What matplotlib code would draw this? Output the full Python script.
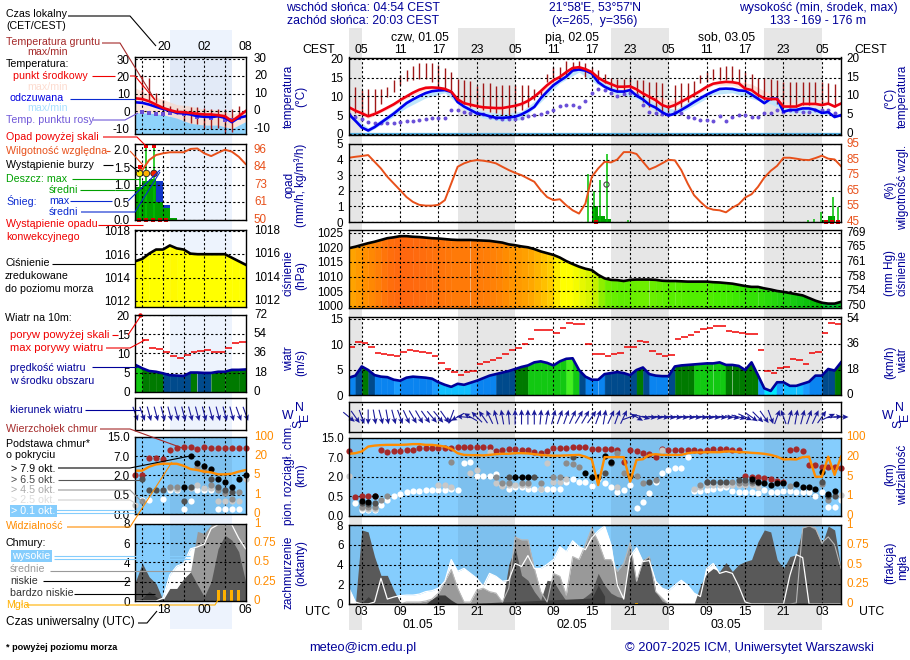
import numpy as np
import matplotlib
matplotlib.use("Agg")
import matplotlib.pyplot as plt
from matplotlib.colors import LinearSegmentedColormap

plt.rcParams['font.family'] = ['Liberation Sans', 'DejaVu Sans']
plt.rcParams['font.size'] = 8.8

#--------main panel data (hours counted from 01.05 00 UTC)--------
hours = np.arange(1, 79)
night_start = [1, 18, 42, 66]
night_end = [3, 27, 51, 75]

temp_mid = [7.1,6.2,5.5,4.7,5.3,6.1,7.0,7.9,9.0,10.0,11.0,11.8,12.3,12.4,12.3,12.0,11.3,9.2,8.2,7.8,
  7.4,7.1,7.0,6.9,6.9,7.2,7.5,8.0,8.8,9.9,11.4,13.0,14.3,15.2,16.5,17.6,17.8,17.3,16.5,15.0,
  14.0,13.3,12.6,12.6,12.7,11.9,10.8,9.9,9.0,7.7,7.1,7.7,8.6,9.5,10.5,11.5,12.6,13.4,13.7,13.9,
  13.8,13.5,12.1,11.7,10.4,9.5,9.3,9.3,7.3,7.3,7.3,8.0,8.0,8.0,7.7,8.1,7.3,8.1]
temp_feel = [5.2,3.5,1.7,0.9,1.8,3.0,4.2,5.4,6.8,8.2,9.2,10.1,10.9,11.4,11.6,11.7,11.2,8.5,7.3,6.4,
  5.5,5.2,4.7,4.3,4.3,4.4,4.6,5.2,6.1,7.2,9.5,11.3,13.0,14.2,15.3,16.9,17.2,16.9,16.1,13.8,
  12.6,11.8,11.3,11.3,11.7,10.2,9.2,7.8,7.0,5.8,4.9,5.4,6.4,7.4,8.5,9.5,10.5,11.3,12.0,12.1,
  12.0,11.6,11.5,10.5,9.4,8.2,9.4,9.4,5.9,6.4,6.4,6.8,6.8,6.4,5.6,5.8,4.5,5.0]
dew_point = [5.2,4.6,3.9,3.3,2.8,2.8,2.8,3.0,3.3,3.5,3.5,3.7,3.9,4.2,4.2,4.3,6.5,6.4,5.9,5.5,
  5.5,5.2,4.6,4.2,3.9,3.9,3.9,4.2,4.8,5.0,5.3,5.9,6.4,7.4,7.7,7.7,7.1,8.8,10.8,11.9,
  11.7,11.0,10.1,10.6,11.0,10.3,7.7,5.9,5.7,5.3,5.3,5.8,5.7,4.4,4.2,3.7,3.7,3.5,4.9,3.4,
  4.6,5.0,5.0,4.6,4.4,5.5,5.7,6.4,5.9,6.4,6.2,5.9,5.9,6.5,6.5,6.4,5.5,5.0]
soil_hours = np.arange(2, 78)
soil_max = [12.4,11.7,11.9,11.9,12.1,12.4,14.3,15.7,17.0,18.0,19.0,19.0,19.0,18.3,17.7,16.5,14.6,14.3,14.1,12.8,
  13.5,13.5,12.8,13.0,13.0,13.0,13.0,13.0,11.9,11.5,16.1,17.9,17.9,19.5,19.2,19.5,18.8,17.9,17.0,15.9,
  14.8,14.6,14.6,14.8,14.5,14.3,13.9,13.9,13.5,8.0,13.0,13.5,13.5,14.2,15.7,16.5,17.4,17.9,18.0,18.2,
  17.4,16.5,15.9,14.8,14.8,14.6,14.3,13.9,13.9,13.9,13.9,13.9,13.9,13.9,13.5,13.3]
soil_min = [5.5,5.0,5.0,5.9,8.1,9.9,11.2,13.0,14.0,14.3,14.6,14.6,13.8,12.4,12.1,11.7,9.0,8.1,7.3,6.8,
  6.4,5.9,5.5,5.0,5.0,5.5,6.4,7.3,9.0,10.4,13.9,14.8,14.8,15.7,17.0,17.0,15.2,15.7,13.5,13.5,
  12.1,11.2,10.8,10.8,10.4,8.6,7.3,6.4,5.9,6.0,6.4,7.3,8.6,9.9,13.5,13.9,14.3,14.3,14.3,13.9,
  13.5,12.1,11.7,9.9,9.0,9.0,8.1,7.3,7.3,7.3,7.7,7.7,8.1,7.7,8.1,7.3]
band_hours = [1,4,7,10,13,16,19,22,25,28,31,34,37,40,43,46,49,52,55,58,61,64,67,70,73,76]
pink_top = [7.6,5.5,7.3,10.6,12.9,12.5,8.7,7.6,7.4,8.5,11.8,15.6,18.2,15.6,13.0,12.6,10.0,8.8,11.0,14.0,14.3,13.3,10.6,8.3,8.8,8.8]
pink_bot = [6.5,4.1,6.5,9.4,11.8,11.6,7.6,6.6,6.4,7.4,10.8,14.5,17.2,14.2,12.0,11.0,8.6,7.0,10.0,13.0,13.0,11.0,8.8,6.9,7.6,7.7]
ice_top = [5.5,1.6,5.0,9.0,11.4,11.8,7.8,6.0,5.4,6.0,10.0,15.0,17.4,14.5,12.0,11.2,8.0,6.5,9.5,12.0,12.6,11.4,9.4,6.8,7.2,6.4]
ice_bot = [4.6,0.4,3.5,7.0,9.6,11.0,6.6,4.2,3.4,3.8,8.5,13.6,16.5,13.0,10.6,9.5,6.0,4.8,7.6,10.5,11.0,9.4,8.0,5.6,5.8,5.0]

humidity = [86.2,86.8,87.3,87.9,83.6,79.3,74.0,69.7,65.4,61.0,57.9,56.0,55.5,55.5,56.0,59.0,69.7,80.4,82.6,84.0,
  84.7,84.3,83.6,82.6,80.4,78.3,76.5,75.0,72.9,70.8,65.4,61.0,59.0,59.6,55.7,52.5,50.4,56.8,74.0,79.3,
  83.6,83.2,85.1,89.8,89.8,88.6,83.6,78.7,80.4,82.6,84.9,84.5,78.3,69.7,62.2,57.9,54.2,52.9,52.5,51.2,
  54.2,56.4,60.7,62.8,67.5,73.5,77.8,81.0,86.2,86.2,85.6,84.9,84.7,86.0,87.5,85.6,85.1,80.8]
rain_hours = [39, 40, 41, 44.5, 71, 73, 75, 76]
rain_mean = [1.0, 0.36, 0.2, 0.03, 0.02, 0.03, 0.1, 0.39]
rain_max_hours = [38.4, 39.4, 40.3, 41.3, 44.7, 72.8, 73.7, 74.8, 76.7, 77.5]
rain_max = [3.05, 2.0, 2.7, 4.36, 0.15, 0.15, 0.2, 0.64, 1.6, 0.96]
thunder_hours = [41.3]
thunder_level = [2.4]
conv_hours = [39.6, 75.6, 76.6, 77.6]

pressure = [1019.7,1020.2,1020.8,1021.4,1021.9,1022.5,1023.1,1023.4,1023.8,1023.8,1023.6,1023.5,1023.3,1023.1,1023.0,1022.8,1022.6,1022.5,1022.5,1022.5,
  1022.4,1022.3,1022.2,1021.9,1021.6,1021.0,1020.7,1020.3,1020.0,1019.4,1018.6,1018.0,1017.4,1016.5,1015.3,1014.3,1013.4,1012.7,1012.2,1010.6,
  1009.4,1008.9,1008.8,1008.5,1008.9,1009.0,1009.0,1009.0,1008.9,1008.6,1008.5,1008.5,1008.4,1008.3,1008.3,1008.3,1008.3,1008.1,1008.0,1007.8,
  1007.6,1007.2,1006.8,1006.5,1006.5,1006.0,1005.6,1005.1,1004.8,1004.4,1004.0,1003.6,1002.7,1001.8,1001.1,1000.8,1000.8,1001.4]

wind = [3.4,3.8,5.6,4.9,3.9,3.6,3.5,3.0,2.8,3.4,3.6,3.5,3.4,3.2,2.5,2.0,1.6,2.2,2.0,2.4,
  2.8,3.3,3.8,4.1,4.4,4.7,5.1,5.5,5.8,6.4,6.6,6.3,5.8,6.6,7.1,7.2,4.9,3.6,3.0,3.0,
  4.1,4.3,4.5,4.3,3.9,4.9,5.4,4.1,3.8,3.7,3.7,5.6,5.8,5.9,6.0,6.1,6.2,6.2,6.4,5.9,
  5.9,5.7,4.9,6.4,3.9,1.3,0.8,2.5,2.5,1.8,1.8,2.2,2.6,3.8,3.8,5.1,4.8,6.4]
gust_hours = np.arange(1, 78)
gust = [9.4,10.4,10.2,9.4,8.2,8.0,7.9,7.6,8.4,8.8,8.7,8.4,8.2,7.6,6.3,5.1,4.5,3.9,4.5,4.7,
  6.0,6.4,6.9,7.2,8.0,8.8,9.2,10.0,11.0,12.8,12.8,12.8,12.2,13.2,14.1,14.0,14.0,10.0,8.0,8.0,
  7.7,8.1,8.3,9.5,9.5,10.6,10.3,8.6,8.1,7.6,7.8,11.0,11.3,11.8,12.4,13.0,13.2,13.6,13.6,12.6,
  12.4,12.2,12.0,12.0,8.8,4.7,4.3,5.2,5.5,7.0,6.8,6.0,8.3,8.5,12.2,14.1,13.9]
wind_dir = [310,325,340,0,350,345,350,345,340,335,330,330,325,320,320,325,20,60,95,120,
  135,145,155,165,170,175,180,180,180,180,185,190,195,200,200,205,210,210,215,200,
  190,205,200,205,250,300,285,275,275,275,275,275,275,275,275,275,275,275,275,275,
  280,285,295,305,315,325,340,200,160,195,190,195,200,205,215,245,265,270]

top_km = [9.3,0.48,0.52,0.52,0.5,10.0,9.0,9.5,9.5,10.0,10.0,10.6,10.6,10.6,10.6,10.6,10.6,11.0,11.0,11.0,
  11.0,11.0,11.0,9.7,10.0,10.4,10.4,10.0,9.8,9.0,8.7,9.5,10.6,10.6,10.6,11.0,11.0,11.0,10.4,10.4,
  10.4,10.4,10.0,5.7,10.0,9.5,8.8,8.3,7.2,10.4,10.0,10.0,10.0,10.0,10.0,9.7,10.0,10.4,10.4,10.4,
  10.0,10.0,2.1,1.95,1.95,1.9,1.8,1.65,1.6,10.0,10.4,9.5,4.9,4.9,4.6,4.6,4.5,4.2]
black_h = [3,4,5,27,28,29,38,39,40,41,42,45,64,65,66,67,68,69,71,72,73,74,75,76,77]
black_km = [0.38,0.35,0.5,2.0,2.05,2.05,3.0,2.0,2.0,7.4,5.8,2.1,1.8,1.6,1.5,1.37,1.5,1.5,1.48,1.25,1.2,1.07,3.1,0.7,0.9]
dark_h = [3,4,5,26,30,36,41,42,48,57,58,59,60,62,63,64,65,75,76,77]
dark_km = [0.33,0.3,0.33,2.0,2.0,7.0,2.9,5.4,1.6,1.6,1.6,1.6,1.6,1.76,1.76,1.65,1.6,1.6,0.5,0.52]
grey_h = [3,4,5,6,7,17,24,25,26,28,29,31,33,34,35,36,37,43,44,46,47,49,56,57,61,62,63,64,65,70,75,76]
grey_km = [0.24,0.22,0.24,0.4,0.52,5.8,2.0,1.5,1.5,1.5,1.5,1.5,2.0,2.0,5.4,5.2,4.5,8.7,3.0,2.1,1.5,1.76,1.4,1.6,1.6,1.5,1.55,1.55,1.5,1.3,1.45,0.4]
light_h = [1,3,4,5,15,16,17,20,21,23,24,25,26,27,28,29,31,32,33,34,35,43,50,55,56,57,58,59,60,61,62,63,64,65,78]
light_km = [2.1,0.2,0.18,0.18,1.4,1.4,1.25,3.0,3.7,9.0,1.5,1.3,1.35,1.35,1.35,1.35,1.1,5.6,1.6,1.6,1.8,1.25,10.0,1.1,1.25,1.37,1.37,1.37,1.37,1.37,1.37,1.37,1.37,1.25,0.6]
white_h = np.arange(2, 79)
white_km = [0.32,0.16,0.16,0.16,0.28,0.4,0.52,0.7,0.82,0.92,0.92,1.0,1.0,1.0,1.0,1.1,1.0,5.4,5.7,2.1,
  2.1,2.3,2.6,1.4,1.1,1.2,1.2,1.1,1.1,1.07,1.1,1.1,1.1,1.6,1.8,1.6,1.6,1.3,1.8,1.5,
  1.25,0.86,1.0,1.37,0.2,0.35,0.74,1.6,3.0,3.6,4.2,4.2,7.0,0.9,0.9,1.0,1.1,1.17,1.25,0.92,
  0.86,0.86,0.8,0.74,1.0,0.86,0.86,0.9,0.9,0.86,0.86,0.86,0.5,0.86,0.24,0.24,0.4]
visibility = [33.6,36,43,63,67,69,70,70,70,71,73,73,70,70,67,63,54,36,29,28,
  28,27,29,32,33.6,33.6,36,36,35,32,29,27,26,26,27,28,29,22,18.2,3.3,
  20,20,20,20,4,17.9,18.4,29,32,29,29,29,29,36,39,39,40,40,40,43,
  43,40,40,37.5,36,33.6,29,22,18.2,18.4,18.2,20,22,5,5,22,6.4,22]

cloud_high = [1.6,0.2,0,0,0.2,2.6,0.5,0.7,0.85,0.9,0.9,1.0,1.25,1.35,1.6,2.3,4.5,3.3,3.6,3.1,
  2.6,1.8,3.1,2.8,2.3,2.4,4.1,3.8,4.9,3.6,3.6,4.0,4.5,5.8,5.3,6.4,5.8,5.5,6.7,7.4,
  7.9,6.0,1.9,0.5,4.8,5.7,4.3,4.4,2.3,1.6,1.35,1.9,2.4,1.9,1.1,0.75,3.6,4.1,3.1,3.3,
  3.1,1.8,0.2,0,0,0,0,0,0,2.9,5.0,4.7,0,0,0,0,0,0]
cloud_mid = [0,0,0,0,0,0,0,0,0,0.2,0.2,0.2,0.3,0.5,1.1,2.3,3.5,1.6,0.2,0.2,
  1.4,1.6,1.25,1.1,0.2,1.6,6.8,6.5,6.5,3.6,1.25,0.2,3.1,2.8,0.9,4.8,4.5,6.0,7.7,6.3,
  4.5,4.5,3.3,4.1,6.2,2.3,4.3,4.8,1.25,0.6,0,0,0,0,0,0,0,0,0,0,
  0,0,0,0,0,0,0,0,0,0,0.1,7.7,7.9,7.7,6.2,6.8,6.0,3.6]
cloud_low = [0,0,7.5,7.3,4.8,2.9,2.9,1.4,0.2,0,0,0,0,0.2,0.9,0.9,0.2,0,0,0,
  0,0,0,0,0,4.0,5.7,2.9,2.4,1.25,0.4,2.4,2.3,1.25,0.3,0.2,0.3,0.75,1.25,3.1,
  1.9,1.1,0.75,0.6,5.5,2.3,4.5,4.8,1.25,0.3,0,0,0,0,0,1.9,3.1,3.6,3.3,4.2,
  3.3,4.0,4.3,4.5,6.3,7.5,7.3,4.5,3.6,4.8,5.0,7.7,7.9,7.5,6.0,7.9,7.5,3.6]
vlow_hours = [3, 4, 5, 6, 13, 14, 15, 16, 17, 18, 39, 40, 41]
vlow_vals = [0.1, 0.75, 0.2, 0, 0, 0.5, 0.9, 0.9, 0.4, 0, 0.6, 1.9, 0.8]
fog_hours = [46]
fog_vals = [0.15]

#--------left (legend) panel data--------
l_hours = np.arange(14, 31)
l_temp_mid = [7.4,7.0,5.7,3.8,1.9,0.6,-0.4,-0.6,-1.0,-1.5,-1.9,-1.9,-2.3,-2.9,-5.7,-2.9,0.0]
l_temp_feel = [5.1,4.8,3.8,2.5,1.3,0.4,-1.0,-1.3,-1.9,-2.9,-3.2,-3.4,-2.9,-3.8,-6.3,-3.8,-2.9]
l_band_hours = [14,16,18,20,22,24,26,28,30]
l_pink_top = [13.3,9.5,6.7,3.8,2.9,1.0,1.0,-1.9,1.0]
l_ice_top = [-0.9,-1.0,-2.0,-4.0,-7.0,-8.0,-8.0,-10.0,-6.0]
l_dew_hours = [15,16,17,18,19,21,23,25,27,28,29]
l_dew = [-0.6,-1.0,-1.9,-1.9,-1.0,-1.9,-3.2,-3.8,-4.8,-5.1,-3.8]
l_soil_hours = np.arange(15, 30)
l_soil_max = [21,19,10.5,6.7,3.2,1.9,1.0,2.3,2.3,1.9,1.0,1.0,1.3,1.0,2.9]
l_soil_min = [6.7,6.7,4.8,1.9,-1.0,-1.9,-5.7,-6.7,-7.6,-9.5,-10.0,-9.5,-12.4,-11.8,-2.9]
l_humidity = [80.7,82.9,89.4,92.7,93.8,94.5,94.5,94.5,96.7,97.0,93.8,92.0,94.2,96.2,94.9,91.6,86.8]
l_rain_hours = [14,15,16,17,18,19]
l_rain = [0.95,1.12,1.17,0.52,0.33,0.05]
l_snow = [0,0,0,1.1,0.43,0]
l_rain_max_hours = [14.6,15.6,16.7]
l_rain_max = [1.5,2.08,2.08]
l_thunder_colors = ['#ffe800','#ffb000','#f02000']
l_thunder_level = [1.33,1.33,1.33]
l_conv_hours = [14.5,15.5,16.5,17.5,18.5]
l_pressure = [1015.4,1015.6,1016.05,1016.4,1016.4,1016.75,1016.5,1016.4,1016.05,1016.0,1016.0,1016.0,1016.0,1016.0,1015.7,1015.4,1015.1]
l_wind = [7.0,6.1,5.4,5.2,4.8,4.3,4.2,4.1,5.0,5.0,4.9,4.9,5.2,5.2,5.7,5.7,5.8]
l_gust_hours = np.arange(15, 30)
l_gust = [13.5,11.5,11.1,10.4,9.4,8.7,9.7,10.4,10.6,10.8,10.4,10.4,11.5,12.6,12.9]
l_wind_dir = [340,340,345,345,345,345,345,345,345,345,345,345,345,345,345,340,340]
l_top_h = np.arange(14, 31)
l_top_km = [2.0,2.0,6.5,6.5,6.2,9.6,10.4,10.6,10.6,9.8,10.6,10.4,10.4,10.4,10.4,10.4,10.4]
l_black_h = [21,22,23,24,25,26,27,28,29,30]
l_black_km = [1.1,7.0,5.1,4.4,3.8,1.7,1.5,1.1,1.7,2.0]
l_dark_h = [15,16,17,18,21,22,25,26,27,28]
l_dark_km = [1.7,0.85,0.85,0.85,0.35,1.1,1.7,1.1,0.85,0.7]
l_grey_h = [15,19,20,23,24,25,26,27,28,29]
l_grey_km = [0.35,1.1,1.1,4.3,3.5,1.25,0.85,0.65,0.4,0.7]
l_light_h = [14,19,20,22,23,24,25,26,27,28,29,30]
l_light_km = [0.25,1.05,0.95,1.0,1.25,1.05,1.05,0.35,0.35,0.35,0.35,1.7]
l_white_h = [15,16,18,19,20,21,22,23,24,25,26,27,28,29]
l_white_km = [0.37,0.37,0.4,0.85,0.85,0.14,0.35,0.85,0.85,0.85,0.14,0.14,0.14,0.14]
l_visibility = [8.75,8.75,11.8,13.6,14.1,14.1,14.1,12.5,10,9.2,8,7.4,5.9,5.9,6.4,8,9.2]
l_cloud_high = [0,0,0,0,0.3,2.7,3.6,3.9,5.4,5.6,5.9,7.5,7.9,7.9,7.9,6.5,5.4]
l_cloud_mid = [0,0,0,0,0.1,0.4,1.0,1.3,3.0,7.2,7.0,7.9,8,8,8,8,8]
l_cloud_low = [2.0,3.9,2.5,1.8,0.1,1.3,1.3,2.3,3.0,1.7,0.45,2.0,5.4,6.8,6.3,5.1,2.0]
l_vlow_hours = [14,15,16,17,18]
l_vlow = [0,0.3,1.0,0.45,0]
l_fog_hours = [26,27,28,29]
l_fog = [1.1,1.1,1.1,1.1]

#--------axis labels--------
temp_ticks = [0,5,10,15,20]
rain_ticks = [0,1,2,3,4,5]
rh_labels = ['45','55','65','75','85','95']
press_ticks = [1000,1005,1010,1015,1020,1025]
mmhg_labels = ['750','754','758','761','765','769']
wind_ticks = [0,5,10,15]
kmh_labels = ['0','18','36','54']
base_ticks = [0,0.5,2,7,15]
base_labels = ['0.0','0.5','2.0','7.0','15.0']
vis_ticks = [0,1,5,20,100]
okta_ticks = [0,2,4,6,8]
frac_labels = ['0','0.25','0.5','0.75','1']
l_temp_ticks = [-10,0,10,20,30]
l_rain_ticks = [0,0.5,1,1.5,2]
l_rh_labels = ['50','61','73','84','96']
l_press_ticks = [1012,1014,1016,1018]
l_wind_ticks = [0,5,10,15,20]
l_kmh_labels = ['0','18','36','54','72']

#--------config--------
W, H = 910, 660
NAVY = '#000099'
ORANGE = '#ff8c00'
RH = '#e8501a'
SKY = '#85cdfd'
press_cmap = LinearSegmentedColormap.from_list('press', [
  (0.0, '#00c878'), (0.06, '#00b400'), (0.16, '#12c812'), (0.33, '#44ee00'),
  (0.48, '#c8f000'), (0.60, '#ffff00'), (0.69, '#ffff00'), (0.73, '#ffd000'), (0.80, '#ffb000'),
  (0.88, '#ff9000'), (1.0, '#ff6410')])
wind_bounds = [1.8, 2.3, 3, 4, 5, 6, 7]
wind_colors = ['#00eaff','#10c0ff','#1a9cff','#0a84f0','#004a8c','#007a00','#12c812','#44f020']

fig = plt.figure(figsize=(W/100, H/100), dpi=100, facecolor='white')

def panel(x0, x1, y0, y1):
  return fig.add_axes([x0/W, 1-y1/H, (x1-x0)/W, (y1-y0)/H], facecolor='none', zorder=5)

def overlay(z):
  a = fig.add_axes([0, 0, 1, 1], facecolor='none', zorder=z)
  a.set_xlim(0, W)
  a.set_ylim(H, 0)
  a.axis('off')
  return a

def setup(ax, xlim, xgrid, ylim, yticks, ylabels=None, rlabels=None, rcolor='black'):
  ax.set_xlim(*xlim)
  ax.set_ylim(*ylim)
  ax.set_xticks(xgrid)
  ax.set_xticklabels([])
  ax.set_yticks(yticks)
  if ylabels is None:
    ylabels = [str(t) for t in yticks]
  ax.set_yticklabels(ylabels)
  ax.tick_params(length=0, pad=4, labelsize=8.4)
  ax.grid(True, color='black', ls=(0, (2, 2)), lw=0.8)
  ax.set_axisbelow(False)
  for s in ax.spines.values():
    s.set_linewidth(1.0)
    s.set_zorder(6)
  if rlabels is None:
    rlabels = ylabels
  rpad = 6 if xlim[0] == 14 else 4
  for t, l in zip(yticks, rlabels):
    ax.annotate(l, xy=(1, t), xycoords=ax.get_yaxis_transform(), xytext=(rpad, 0),
      textcoords='offset points', va='center', ha='left', color=rcolor, fontsize=8.4, annotation_clip=False)

def color_area(ax, x, y, colors, floor):
  for i in range(len(x)-1):
    ax.fill_between(x[i:i+2], y[i:i+2], floor, color=colors[i], lw=0.3, zorder=1)

def press_colors(p):
  p = np.array(p)
  mid = (p[:-1]+p[1:])/2
  return [press_cmap((v-1000)/24.0) for v in mid]

def wind_color_list(v):
  v = np.array(v)
  mid = (v[:-1]+v[1:])/2
  return [wind_colors[i] for i in np.digitize(mid, wind_bounds)]

def to_base(v):
  return np.interp(v, base_ticks, range(5))

def from_base(v):
  return np.interp(v, range(5), base_ticks)

def vis_as_km(v):
  return np.interp(v, vis_ticks, base_ticks)

def arrows(ax, x, dirs):
  rad = np.radians(dirs)
  u = -np.sin(rad)*15
  v = -np.cos(rad)*15
  ax.quiver(x, np.zeros(len(x)), u, v, color='#1a1a99', angles='uv', scale_units='dots', scale=1,
    units='dots', width=1.1, headwidth=5, headlength=5.5, headaxislength=4.5, pivot='mid', zorder=4, clip_on=False)

def base_dots(ax, layers):
  for hx, km, col in layers:
    ax.scatter(hx, km, s=20, color=col, lw=0, zorder=4, clip_on=False)

bg = overlay(-1)
fg = overlay(20)

# background bands
for a, b in zip(night_start, night_end):
  bg.fill_between([349+(a-1)*6.39, 349+(b-1)*6.39], 28, 630, color='#e6e6e6', lw=0)
bg.fill_between([170, 232], 30, 629, color='#edf3fd', lw=0)

main_x = (1, 78)
main_grid = list(range(3, 78, 6))
left_x = (14, 30)
left_grid = list(range(15, 30, 3))

#--------main panels--------
ax = panel(349, 841, 57.5, 135)
setup(ax, main_x, main_grid, (-0.3, 20.4), temp_ticks)
ax.fill_between(band_hours, pink_bot, pink_top, color='#fde0da', lw=0, zorder=1)
ax.fill_between(band_hours, ice_bot, ice_top, color='#bfe6fb', lw=0, zorder=1)
ax.axhline(0, color='#4fa8d8', lw=1.6, zorder=1.5)
ax.vlines(soil_hours, soil_min, soil_max, color='#a01818', lw=1.0, zorder=2)
ax.scatter(hours, dew_point, s=8, color='#6a50d8', lw=0, zorder=3)
ax.plot(hours, temp_feel, color='#0000ee', lw=1.9, zorder=3.2)
ax.plot(hours, temp_mid, color='#f00010', lw=1.9, zorder=3.4)

ax = panel(349, 841, 144, 222)
setup(ax, main_x, main_grid, (0, 5), rain_ticks, rlabels=rh_labels, rcolor=RH)
ax.bar(rain_hours, rain_mean, width=1, align='edge', color='#00a000', lw=0, zorder=1)
ax.vlines(rain_max_hours, 0, rain_max, color='#00c000', lw=1.1, zorder=2)
ax.scatter(thunder_hours, thunder_level, s=14, facecolor='none', edgecolor='#444444', lw=0.8, zorder=4)
ax.scatter(conv_hours, np.zeros(len(conv_hours)), s=7, marker='s', color='#e00000', lw=0, zorder=5, clip_on=False)
ax.plot(hours, (np.array(humidity)-45)/10, color=RH, lw=1.4, zorder=3)

ax = panel(349, 841, 230, 308)
setup(ax, main_x, main_grid, (999.3, 1025.9), press_ticks, rlabels=mmhg_labels)
color_area(ax, hours, pressure, press_colors(pressure), 999.3)
ax.plot(hours, pressure, color='black', lw=1.9, zorder=3)

ax = panel(349, 841, 317, 395)
setup(ax, main_x, main_grid, (0, 15.3), wind_ticks, rlabels=kmh_labels)
color_area(ax, hours, wind, wind_color_list(wind), 0)
ax.plot(hours, wind, color='#000099', lw=1.9, zorder=3)
ax.hlines(gust, gust_hours, gust_hours+1, color='#f00000', lw=1.1, zorder=3)

ax = panel(349, 841, 402, 432)
setup(ax, main_x, main_grid, (-1, 1), [])
arrows(ax, hours, wind_dir)

ax = panel(349, 841, 437.5, 516)
ax.set_facecolor(SKY)
ax.set_yscale('function', functions=(to_base, from_base))
setup(ax, main_x, main_grid, (0, 15), base_ticks, ylabels=base_labels, rlabels=[str(v) for v in vis_ticks], rcolor=ORANGE)
for a, b in zip(night_start, night_end):
  ax.axvspan(a, b, color='black', alpha=0.06, lw=0, zorder=0.5)
base_dots(ax, [(hours, top_km, '#a52a2a'), (white_h, white_km, 'white'), (light_h, light_km, '#c8c8c8'),
  (grey_h, grey_km, '#8c8c8c'), (dark_h, dark_km, '#505050'), (black_h, black_km, 'black')])
ax.plot(hours, vis_as_km(visibility), color=ORANGE, lw=1.7, zorder=5)

ax = panel(349, 841, 525, 604)
ax.set_facecolor(SKY)
setup(ax, main_x, main_grid, (0, 8), okta_ticks, rlabels=frac_labels, rcolor=ORANGE)
for a, b in zip(night_start, night_end):
  ax.axvspan(a, b, color='black', alpha=0.06, lw=0, zorder=0.5)
ax.fill_between(hours, cloud_high, 0, color='white', lw=0, zorder=1)
ax.fill_between(hours, cloud_mid, 0, color='#999999', lw=0, zorder=1.1)
ax.fill_between(hours, cloud_low, 0, color='#595959', lw=0, zorder=1.2)
ax.fill_between(vlow_hours, vlow_vals, 0, color='#3c3c3c', lw=0, zorder=1.3)
ax.plot(hours, cloud_mid, color='#b8b8b8', lw=0.8, zorder=3)
ax.plot(hours, cloud_high, color='white', lw=0.9, zorder=3.1)
ax.bar(fog_hours, fog_vals, width=0.4, color='#ffb000', lw=0, zorder=3.2)

#--------left panels--------
ax = panel(135.4, 245.6, 57.3, 134.3)
setup(ax, left_x, left_grid, (-13.3, 31), l_temp_ticks)
ax.fill_between(l_band_hours, -14, l_ice_top, color='#8fd3fb', lw=0, zorder=1)
ax.fill_between(l_band_hours, l_ice_top, l_pink_top, color='#fde4da', lw=0, zorder=0.9)
ax.axvspan(19, 28, color='#4060a0', alpha=0.06, lw=0, zorder=1.1)
ax.vlines(l_soil_hours, l_soil_min, l_soil_max, color='#a01818', lw=1.0, zorder=2)
ax.scatter(l_dew_hours, l_dew, s=9, marker='s', color='#6a50d8', lw=0, zorder=3)
ax.plot(l_hours, l_temp_feel, color='#0000ee', lw=1.9, zorder=3.2)
ax.plot(l_hours, l_temp_mid, color='#f00010', lw=1.9, zorder=3.4)

ax = panel(135.4, 245.6, 143.7, 220)
setup(ax, left_x, left_grid, (0, 2.18), l_rain_ticks, ylabels=['0.0','0.5','1.0','1.5','2.0'], rlabels=l_rh_labels, rcolor=RH)
ax.bar(l_rain_hours, l_snow, width=1, align='edge', color='#1438c8', lw=0, zorder=1)
ax.bar(l_rain_hours, l_rain, width=1, align='edge', color='#00a000', lw=0, zorder=1.1)
ax.vlines(l_rain_max_hours, 0, l_rain_max, color='#00c000', lw=1.1, zorder=2)
ax.scatter(l_rain_max_hours, np.array(l_rain_max)+0.02, s=8, marker='s', color='#f00000', lw=0, zorder=4, clip_on=False)
ax.scatter(l_rain_max_hours, l_thunder_level, s=22, c=l_thunder_colors, edgecolor='#222222', lw=0.6, zorder=4)
ax.scatter(l_conv_hours, np.zeros(len(l_conv_hours))+0.01, s=5, marker='s', color='#e00000', lw=0, zorder=5, clip_on=False)
ax.plot(l_hours, (np.array(l_humidity)-50)/46*2, color=RH, lw=1.4, zorder=3)

ax = panel(135.4, 245.6, 229.7, 306.7)
setup(ax, left_x, left_grid, (1011.5, 1018.1), l_press_ticks)
color_area(ax, l_hours, l_pressure, press_colors(l_pressure), 1011.5)
ax.plot(l_hours, l_pressure, color='black', lw=1.9, zorder=3)

ax = panel(135.4, 245.6, 315, 391.7)
setup(ax, left_x, left_grid, (0, 20), l_wind_ticks, rlabels=l_kmh_labels)
color_area(ax, l_hours, l_wind, wind_color_list(l_wind), 0)
ax.plot(l_hours, l_wind, color='#000099', lw=1.9, zorder=3)
ax.hlines(l_gust, l_gust_hours, l_gust_hours+1, color='#f00000', lw=1.1, zorder=3)
ax.scatter([14.6], [19.9], s=10, color='#f00000', lw=0, zorder=4, clip_on=False)

ax = panel(135.4, 245.6, 398, 429.7)
setup(ax, left_x, left_grid, (-1, 1), [])
arrows(ax, l_hours, l_wind_dir)

ax = panel(135.4, 245.6, 436.7, 514.3)
ax.set_facecolor(SKY)
ax.set_yscale('function', functions=(to_base, from_base))
setup(ax, left_x, left_grid, (0, 15), base_ticks, ylabels=base_labels, rlabels=[str(v) for v in vis_ticks], rcolor=ORANGE)
ax.axvspan(19, 28, color='black', alpha=0.06, lw=0, zorder=0.5)
base_dots(ax, [(l_top_h, l_top_km, '#a52a2a'), (l_white_h, l_white_km, 'white'), (l_light_h, l_light_km, '#c8c8c8'),
  (l_grey_h, l_grey_km, '#8c8c8c'), (l_dark_h, l_dark_km, '#505050'), (l_black_h, l_black_km, 'black')])
ax.plot(l_hours, vis_as_km(l_visibility), color=ORANGE, lw=1.7, zorder=5)

ax = panel(135.4, 245.6, 523.7, 601)
ax.set_facecolor(SKY)
setup(ax, left_x, left_grid, (0, 8), okta_ticks, rlabels=frac_labels, rcolor=ORANGE)
ax.axvspan(19, 28, color='black', alpha=0.06, lw=0, zorder=0.5)
ax.fill_between(l_hours, l_cloud_high, 0, color='white', lw=0, zorder=1)
ax.fill_between(l_hours, l_cloud_mid, 0, color='#999999', lw=0, zorder=1.1)
ax.fill_between(l_hours, l_cloud_low, 0, color='#595959', lw=0, zorder=1.2)
ax.fill_between(l_vlow_hours, l_vlow, 0, color='#3c3c3c', lw=0, zorder=1.3)
ax.plot(l_hours, l_cloud_high, color='white', lw=0.9, zorder=3.1)
ax.bar(l_fog_hours, l_fog, width=0.45, color='#ffb000', lw=0, zorder=3.2)

#--------text--------
def put(x, y, s, color='black', ha='left', rot=0, size=8.8, **kw):
  fg.text(x, y, s, color=color, ha=ha, va='center', rotation=rot, fontsize=size, **kw)

BROWN = '#a52a2a'
RED = '#f00000'
GREEN = '#00a000'
BLUE = '#0a2ad0'
left_text = [
  (6,14,'Czas lokalny','black'), (6,26,'(CET/CEST)','black'),
  (6,42,'Temperatura gruntu',BROWN), (27,52,'max/min',BROWN),
  (6,64,'Temperatura:','black'), (13,76,'punkt środkowy',RED), (27,87,'max/min','#fddcd0'),
  (10,98,'odczuwana','#0000e0'), (27,108,'max/min','#a8e0ff'), (6,120,'Temp. punktu rosy','#7058d8'),
  (6,137,'Opad powyżej skali',RED), (6,151,'Wilgotność względna',RH), (6,165,'Wystąpienie burzy','black'),
  (6,179,'Deszcz: max',GREEN), (49,190,'średni',GREEN), (6,201,'Śnieg:',BLUE), (49,201,'max',BLUE), (49,212,'średni',BLUE),
  (6,224,'Wystąpienie opadu',RED), (6,237,'konwekcyjnego',RED),
  (5,263,'Ciśnienie','black'), (5,276,'zredukowane','black'), (5,289,'do poziomu morza','black'),
  (5,318,'Wiatr na 10m:','black'),
  (10,368,'prędkość wiatru',NAVY), (10,381,'w środku obszaru',NAVY), (10,410,'kierunek wiatru',NAVY),
  (6,429,'Wierzchołek chmur',BROWN), (6,444,'Podstawa chmur*','black'), (6,455,'o pokryciu','black'),
  (11,469,'> 7.9 okt.','black'), (11,480,'> 6.5 okt.','#444444'), (11,490,'> 4.5 okt.','#aaaaaa'), (11,500,'> 2.5 okt.','#dddddd'),
  (6,526,'Widzialność',ORANGE), (6,543,'Chmury:','black'), (10,569,'średnie','#999999'),
  (10,581,'niskie','#333333'), (10,593,'bardzo niskie','#333333'), (6,605,'Mgła','#ffb000')]
for x, y, s, c in left_text:
  put(x, y, s, c, size=7.7)
put(10, 335, 'poryw powyżej skali', RED, size=8.1)
put(10, 348, 'max porywy wiatru', RED, size=8.1)
put(6, 622, 'Czas uniwersalny (UTC)', size=8.6)
put(11, 511, '> 0.1 okt.', 'white', size=7.7, bbox=dict(fc=SKY, ec='none', pad=1))
put(12, 556, 'wysokie', 'white', size=7.7, bbox=dict(fc=SKY, ec='none', pad=1))
put(6, 648, '* powyżej poziomu morza', 'black', size=6.6, fontweight='bold')

for x, s in zip([164, 204, 245], ['20', '02', '08']):
  put(x, 47.5, s, ha='center')
for x, s in zip([164, 204, 245], ['18', '00', '06']):
  put(x, 610, s, ha='center')

put(286, 8, 'wschód słońca: 04:54 CEST', NAVY)
put(287, 21, 'zachód słońca: 20:03 CEST', NAVY)
put(595, 8, "21°58'E, 53°57'N", NAVY, ha='center')
put(595, 21, '(x=265,  y=356)', NAVY, ha='center')
put(818, 8, 'wysokość (min, środek, max)', NAVY, ha='center')
put(818, 21, '133 - 169 - 176 m', NAVY, ha='center')
put(420, 38, 'czw, 01.05', ha='center')
put(572, 38, 'pią, 02.05', ha='center')
put(727, 38, 'sob, 03.05', ha='center')
put(319, 50, 'CEST', ha='center')
put(871, 50, 'CEST', ha='center')
put(318, 612, 'UTC', ha='center')
put(872, 612, 'UTC', ha='center')
put(418, 625, '01.05', ha='center')
put(572, 625, '02.05', ha='center')
put(726, 625, '03.05', ha='center')
put(363, 648, 'meteo@icm.edu.pl', NAVY, ha='center', size=9.3)
put(749, 648, '© 2007-2025 ICM, Uniwersytet Warszawski', NAVY, ha='center', size=9.3)

for h in main_grid:
  x = 349+(h-1)*6.39
  put(x, 50, '%02d' % ((h+2) % 24), ha='center')
  put(x, 612, '%02d' % (h % 24), ha='center')

side_labels = [
  (289,96,'temperatura'), (301,96,'(°C)'), (289,185,'opad'), (301,185,'(mm/h, kg/m³/h)'),
  (289,273,'ciśnienie'), (301,275,'(hPa)'), (289,359,'wiatr'), (301,362,'(m/s)'),
  (289,474,'pion. rozciągł. chm.'), (301,475,'(km)'), (289,572,'zachmurzenie'), (301,563,'(oktanty)'),
  (903,96,'temperatura'), (890,98,'(°C)'), (903,187,'wilgotność wzgl.'), (890,190,'(%)'),
  (903,273,'ciśnienie'), (890,273,'(mm Hg)'), (903,361,'wiatr'), (890,362,'(km/h)'),
  (903,475,'widzialność'), (890,474,'(km)'), (903,567,'mgła'), (890,563,'(frakcja)')]
for x, y, s in side_labels:
  put(x, y, s, NAVY, ha='center', rot=90, size=8.5)

for x0 in (288, 888):
  put(x0, 416, 'W', NAVY, ha='center')
  put(x0+11, 408, 'N', NAVY, ha='center')
  put(x0+17, 417, 'E', NAVY, ha='center', rot=90)
  put(x0+10, 424, 'S', NAVY, ha='center', rot=90)

# leader lines from the legend texts into the small panels
leaders = [
  ([68,130,156], [16,16,46], 'black'),
  ([102,120,155], [43,43,100], BROWN),
  ([92,115], [76,76], RED), ([130,135,155], [76,76,100], RED),
  ([70,135], [99,99], BLUE),
  ([93,125,138], [120,120,113], '#7058d8'),
  ([103,137,146], [137,137,146], RED),
  ([106,110], [151,151], RH), ([130,143], [151,165], RH),
  ([103,113], [165,165], 'black'), ([130,139], [165,172], 'black'),
  ([72,140], [179,179], GREEN), ([80,115], [190,190], GREEN), ([115,150], [190,190], GREEN),
  ([70,112], [201,201], BLUE), ([128,160], [201,170], BLUE), ([81,135,160], [212,212,172], BLUE),
  ([98,143], [225,225], RED),
  ([52,135], [264,264], 'black'),
  ([112,118], [335,335], RED), ([128,140], [335,317], RED), ([106,130,145], [348,348,340], RED),
  ([92,137], [367,367], NAVY), ([85,140], [410,410], NAVY),
  ([100,130,185], [429,429,449], BROWN),
  ([58,130,190], [468,468,456], 'black'),
  ([58,143], [480,480], '#555555'),
  ([58,130,143], [490,490,503], '#999999'),
  ([58,130,138], [500,500,505], '#d0d0d0'),
  ([55,135], [510,510], SKY), ([55,135], [512.5,512.5], SKY),
  ([67,130,172], [527,527,462], ORANGE),
  ([54,190], [556,556], SKY), ([54,190], [558.5,558.5], SKY),
  ([50,192], [571,571], '#999999'),
  ([43,130], [581,581], 'black'),
  ([74,155], [594,594], 'black'),
  ([26,215,218], [605,605,600], '#ffb000'),
  ([138,147,157], [623,623,611], 'black')]
for xs, ys, c in leaders:
  fg.plot(xs, ys, color=c, lw=0.8, solid_capstyle='butt')

plt.savefig("out.png", dpi=100)
